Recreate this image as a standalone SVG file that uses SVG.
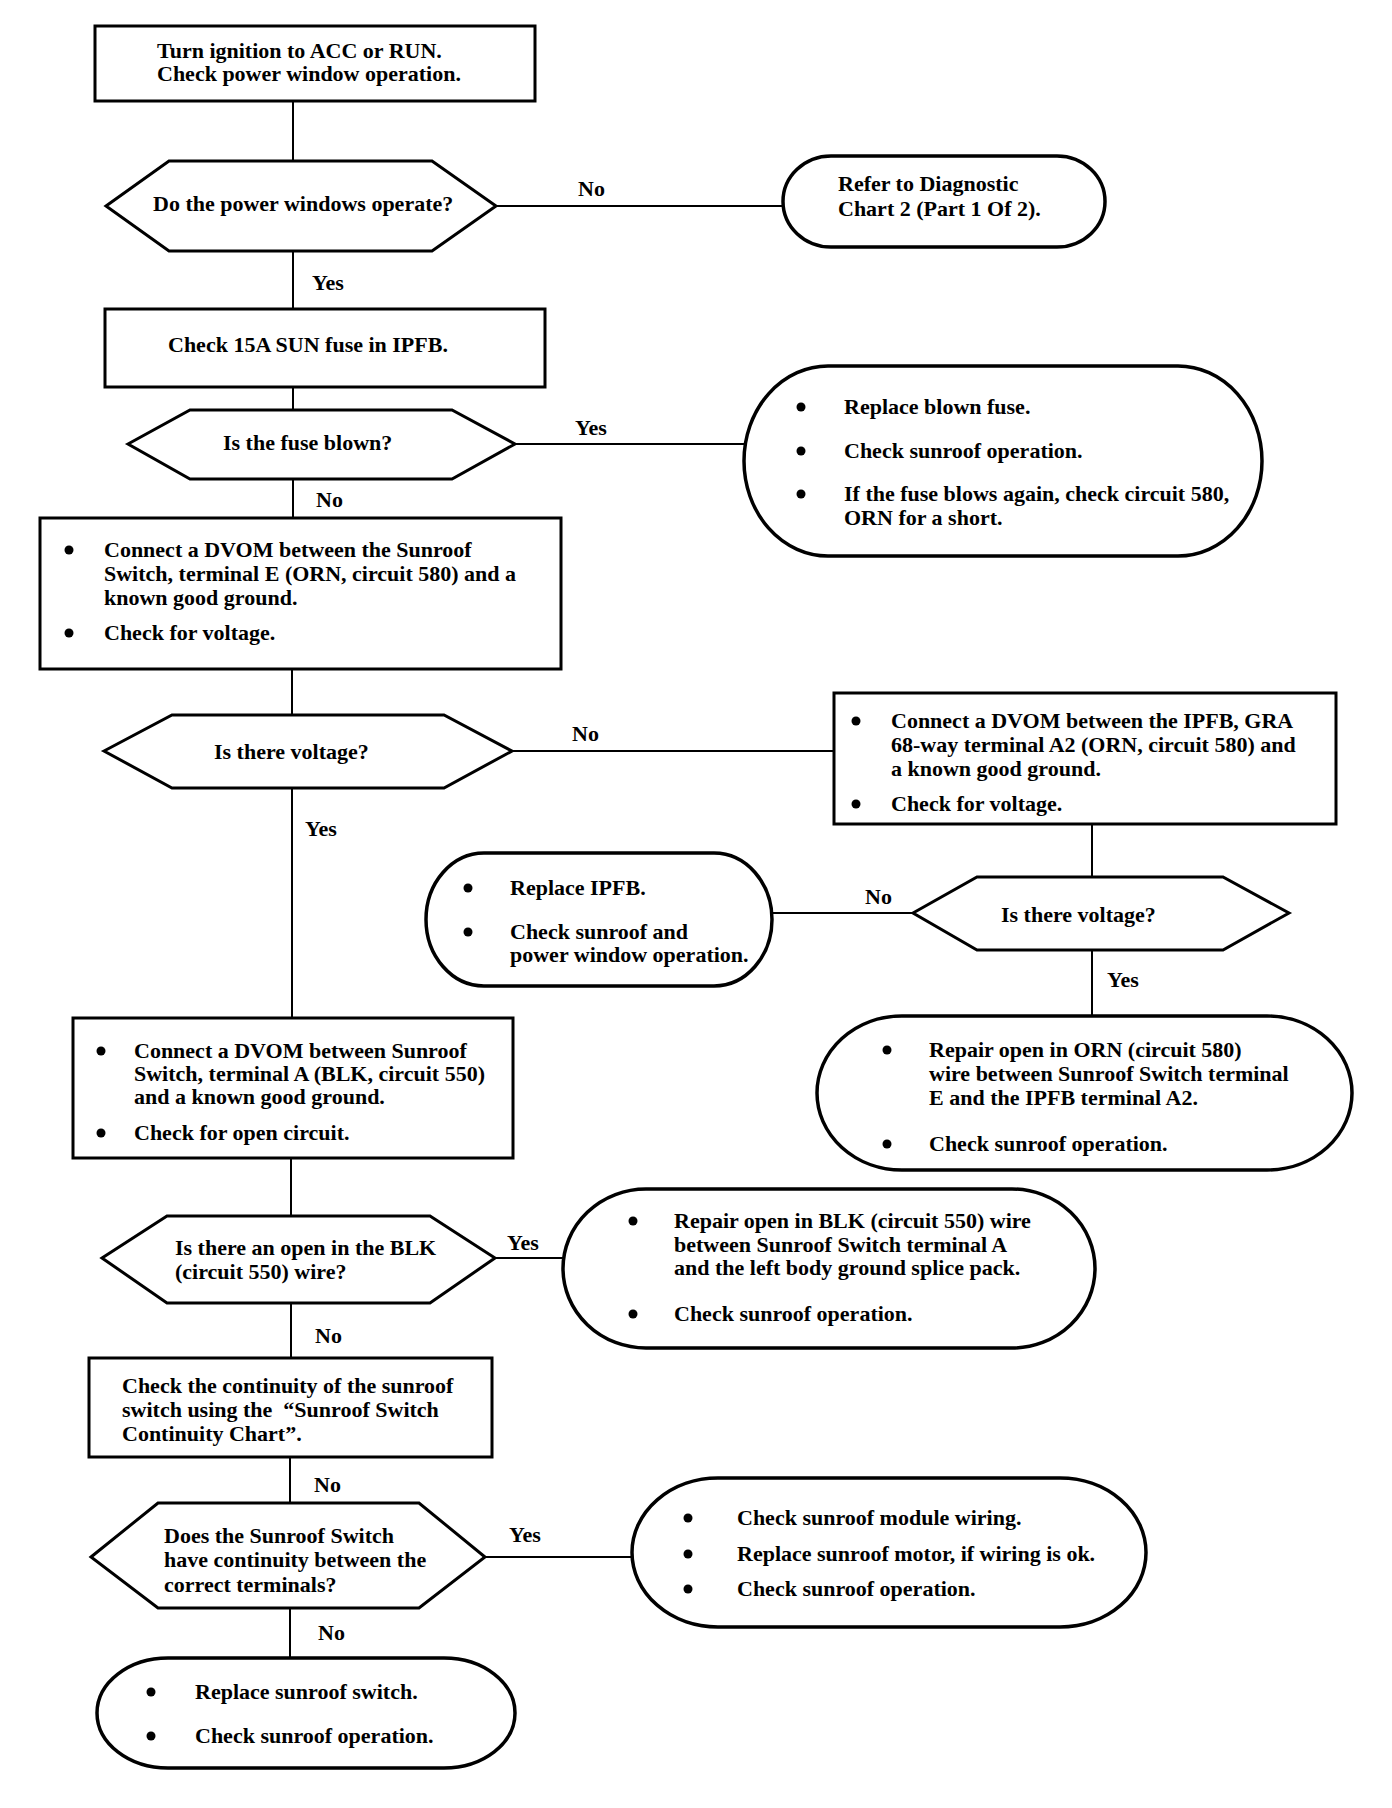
<svg xmlns="http://www.w3.org/2000/svg" width="1392" height="1808" viewBox="0 0 1392 1808">
<style>
text{font-family:"Liberation Serif","Times New Roman",serif;font-weight:bold;font-size:22px;fill:#000}
.box{fill:#fff;stroke:#000;stroke-width:3}
.dec{fill:#fff;stroke:#000;stroke-width:3;stroke-linejoin:miter}
.ov{fill:#fff;stroke:#000;stroke-width:3.5}
.ln{fill:none;stroke:#000;stroke-width:2}
.bul{fill:#000}
</style>
<rect width="1392" height="1808" fill="#fff"/>
<g id="connectors">
<line class="ln" x1="293" y1="101" x2="293" y2="161"/>
<line class="ln" x1="496" y1="206" x2="784" y2="206"/>
<line class="ln" x1="293" y1="251" x2="293" y2="309"/>
<line class="ln" x1="293" y1="387" x2="293" y2="410"/>
<line class="ln" x1="515" y1="444" x2="746" y2="444"/>
<line class="ln" x1="293" y1="479" x2="293" y2="518"/>
<line class="ln" x1="292" y1="669" x2="292" y2="715"/>
<line class="ln" x1="512" y1="751" x2="834" y2="751"/>
<line class="ln" x1="292" y1="788" x2="292" y2="1018"/>
<line class="ln" x1="1092" y1="824" x2="1092" y2="877"/>
<line class="ln" x1="913" y1="913" x2="770" y2="913"/>
<line class="ln" x1="1092" y1="950" x2="1092" y2="1016"/>
<line class="ln" x1="291" y1="1158" x2="291" y2="1216"/>
<line class="ln" x1="495" y1="1258" x2="564" y2="1258"/>
<line class="ln" x1="291" y1="1303" x2="291" y2="1358"/>
<line class="ln" x1="290" y1="1457" x2="290" y2="1503"/>
<line class="ln" x1="485" y1="1557" x2="634" y2="1557"/>
<line class="ln" x1="290" y1="1608" x2="290" y2="1658"/>
<text x="578" y="196">No</text>
<text x="312" y="290">Yes</text>
<text x="575" y="435">Yes</text>
<text x="316" y="507">No</text>
<text x="572" y="741">No</text>
<text x="305" y="836">Yes</text>
<text x="865" y="904">No</text>
<text x="1107" y="987">Yes</text>
<text x="507" y="1250">Yes</text>
<text x="315" y="1343">No</text>
<text x="314" y="1492">No</text>
<text x="509" y="1542">Yes</text>
<text x="318" y="1640">No</text>
</g>
<g id="n1">
<rect class="box" x="95" y="26" width="440" height="75"/>
<text x="157" y="58">Turn ignition to ACC or RUN.</text>
<text x="157" y="81">Check power window operation.</text>
</g>
<g id="n2">
<polygon class="dec" points="106,206 169,161 432,161 496,206 432,251 169,251"/>
<text x="153" y="211">Do the power windows operate?</text>
</g>
<g id="n3">
<rect class="ov" x="783" y="156" width="322" height="91" rx="48" ry="45.5"/>
<text x="838" y="191">Refer to Diagnostic</text>
<text x="838" y="216">Chart 2 (Part 1 Of 2).</text>
</g>
<g id="n4">
<rect class="box" x="105" y="309" width="440" height="78"/>
<text x="168" y="352">Check 15A SUN fuse in IPFB.</text>
</g>
<g id="n5">
<polygon class="dec" points="128,444 190,410 452,410 515,444 452,479 190,479"/>
<text x="223" y="450">Is the fuse blown?</text>
</g>
<g id="n6">
<rect class="ov" x="744" y="366" width="518" height="190" rx="84" ry="95"/>
<circle class="bul" cx="801" cy="407" r="4.5"/>
<text x="844" y="414">Replace blown fuse.</text>
<circle class="bul" cx="801" cy="451" r="4.5"/>
<text x="844" y="458">Check sunroof operation.</text>
<circle class="bul" cx="801" cy="494" r="4.5"/>
<text x="844" y="501">If the fuse blows again, check circuit 580,</text>
<text x="844" y="525">ORN for a short.</text>
</g>
<g id="n7">
<rect class="box" x="40" y="518" width="521" height="151"/>
<circle class="bul" cx="69" cy="550" r="4.5"/>
<text x="104" y="557">Connect a DVOM between the Sunroof</text>
<text x="104" y="581">Switch, terminal E (ORN, circuit 580) and a</text>
<text x="104" y="605">known good ground.</text>
<circle class="bul" cx="69" cy="633" r="4.5"/>
<text x="104" y="640">Check for voltage.</text>
</g>
<g id="n8">
<polygon class="dec" points="104,751 172,715 444,715 512,751 444,788 172,788"/>
<text x="214" y="759">Is there voltage?</text>
</g>
<g id="n9">
<rect class="box" x="834" y="693" width="502" height="131"/>
<circle class="bul" cx="856" cy="721" r="4.5"/>
<text x="891" y="728">Connect a DVOM between the IPFB, GRA</text>
<text x="891" y="752">68-way terminal A2 (ORN, circuit 580) and</text>
<text x="891" y="776">a known good ground.</text>
<circle class="bul" cx="856" cy="804" r="4.5"/>
<text x="891" y="811">Check for voltage.</text>
</g>
<g id="n10">
<polygon class="dec" points="913,913 977,877 1223,877 1289,913 1223,950 977,950"/>
<text x="1001" y="922">Is there voltage?</text>
</g>
<g id="n11">
<rect class="ov" x="426" y="853" width="346" height="133" rx="58" ry="66.5"/>
<circle class="bul" cx="468" cy="888" r="4.5"/>
<text x="510" y="895">Replace IPFB.</text>
<circle class="bul" cx="468" cy="932" r="4.5"/>
<text x="510" y="939">Check sunroof and</text>
<text x="510" y="962">power window operation.</text>
</g>
<g id="n12">
<rect class="ov" x="817" y="1016" width="535" height="154" rx="85" ry="77"/>
<circle class="bul" cx="887" cy="1050" r="4.5"/>
<text x="929" y="1057">Repair open in ORN (circuit 580)</text>
<text x="929" y="1081">wire between Sunroof Switch terminal</text>
<text x="929" y="1105">E and the IPFB terminal A2.</text>
<circle class="bul" cx="887" cy="1144" r="4.5"/>
<text x="929" y="1151">Check sunroof operation.</text>
</g>
<g id="n13">
<rect class="box" x="73" y="1018" width="440" height="140"/>
<circle class="bul" cx="101" cy="1051" r="4.5"/>
<text x="134" y="1058">Connect a DVOM between Sunroof</text>
<text x="134" y="1081">Switch, terminal A (BLK, circuit 550)</text>
<text x="134" y="1104">and a known good ground.</text>
<circle class="bul" cx="101" cy="1133" r="4.5"/>
<text x="134" y="1140">Check for open circuit.</text>
</g>
<g id="n14">
<polygon class="dec" points="102,1258 167,1216 430,1216 495,1258 430,1303 167,1303"/>
<text x="175" y="1255">Is there an open in the BLK</text>
<text x="175" y="1279">(circuit 550) wire?</text>
</g>
<g id="n15">
<rect class="ov" x="563" y="1189" width="532" height="159" rx="83" ry="79.5"/>
<circle class="bul" cx="633" cy="1221" r="4.5"/>
<text x="674" y="1228">Repair open in BLK (circuit 550) wire</text>
<text x="674" y="1252">between Sunroof Switch terminal A</text>
<text x="674" y="1275">and the left body ground splice pack.</text>
<circle class="bul" cx="633" cy="1314" r="4.5"/>
<text x="674" y="1321">Check sunroof operation.</text>
</g>
<g id="n16">
<rect class="box" x="89" y="1358" width="403" height="99"/>
<text x="122" y="1393">Check the continuity of the sunroof</text>
<text x="122" y="1417" xml:space="preserve">switch using the  “Sunroof Switch</text>
<text x="122" y="1441">Continuity Chart”.</text>
</g>
<g id="n17">
<polygon class="dec" points="91,1557 158,1503 419,1503 485,1557 419,1608 158,1608"/>
<text x="164" y="1543">Does the Sunroof Switch</text>
<text x="164" y="1567">have continuity between the</text>
<text x="164" y="1592">correct terminals?</text>
</g>
<g id="n18">
<rect class="ov" x="632" y="1478" width="514" height="149" rx="86" ry="74.5"/>
<circle class="bul" cx="688" cy="1518" r="4.5"/>
<text x="737" y="1525">Check sunroof module wiring.</text>
<circle class="bul" cx="688" cy="1554" r="4.5"/>
<text x="737" y="1561">Replace sunroof motor, if wiring is ok.</text>
<circle class="bul" cx="688" cy="1589" r="4.5"/>
<text x="737" y="1596">Check sunroof operation.</text>
</g>
<g id="n19">
<rect class="ov" x="97" y="1658" width="418" height="110" rx="71" ry="55"/>
<circle class="bul" cx="151" cy="1692" r="4.5"/>
<text x="195" y="1699">Replace sunroof switch.</text>
<circle class="bul" cx="151" cy="1736" r="4.5"/>
<text x="195" y="1743">Check sunroof operation.</text>
</g>
</svg>
